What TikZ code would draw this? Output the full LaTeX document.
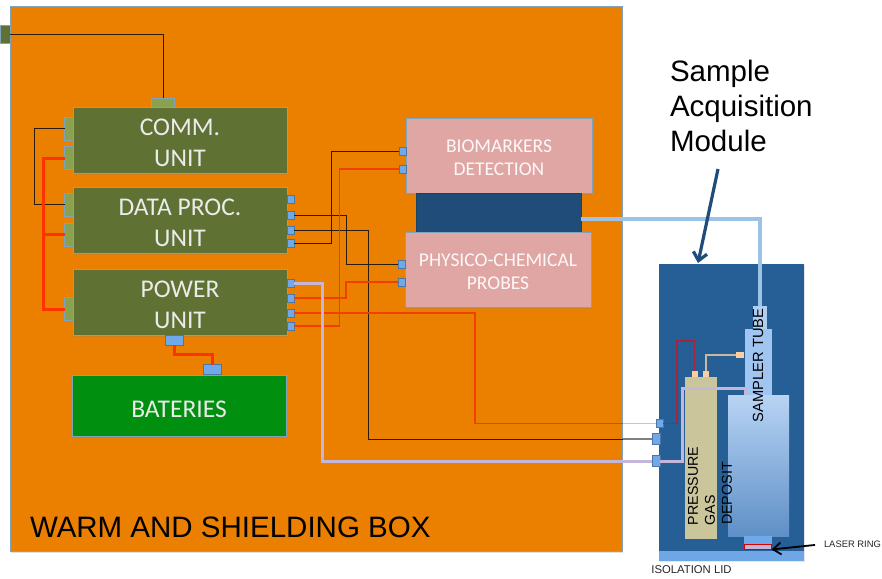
\documentclass[tikz,border=0pt]{standalone}
\usepackage{xcolor}
\usepackage{fontspec}
\setmainfont{Liberation Sans}
\newfontfamily\unitFont{Carlito}
\usepackage{tikz}
\usetikzlibrary{calc}
\usetikzlibrary{arrows.meta, shadows}
\newcommand{\padU}{\rule{0pt}{22pt}}
\newcommand{\padP}{\rule{0pt}{17.5pt}}
\definecolor{colorShell}{HTML}{EB7F00}
\definecolor{colorEdge}{HTML}{7FA3BC}
\definecolor{colorUnit}{HTML}{5F7234}
\definecolor{colorSock}{HTML}{8AA14F}
\definecolor{colorBat}{HTML}{008F0F}
\definecolor{colorPink}{HTML}{E0A6A4}
\definecolor{colorCore}{HTML}{1F4C78}
\definecolor{colorModule}{HTML}{255F96}
\definecolor{colorLid}{HTML}{6FA7E6}
\definecolor{colorPort}{HTML}{6FA9EA}
\definecolor{colorTube}{HTML}{A0C5F0}
\definecolor{colorGas}{HTML}{CAC59B}
\definecolor{colorPeach}{HTML}{F7CFA3}
\definecolor{colorWireK}{HTML}{2A1A08}
\definecolor{colorWireO}{HTML}{F04000}
\definecolor{colorWireR}{HTML}{FF3300}
\definecolor{colorWireL}{HTML}{C4B6DA}
\definecolor{colorWireS}{HTML}{9CC2E6}
\definecolor{colorWireD}{HTML}{A5263C}
\definecolor{colorWireT}{HTML}{C9B9A0}
\tikzset{
    plain/.style = {draw=none, inner sep=0pt, outer sep=0pt},
    boxed/.style = {plain, draw=colorEdge, line width=1pt, drop shadow={shadow xshift=1pt, shadow yshift=-1.5pt, opacity=0.25}},
    unitBox/.style = {boxed, fill=colorUnit, minimum width=214pt, minimum height=66pt, text=white!92!black, align=center, font=\unitFont\fontsize{25.5}{31}\selectfont},
    pinkBox/.style = {boxed, fill=colorPink, minimum width=186pt, minimum height=75pt, text=white!92!colorPink, align=center, font=\unitFont\fontsize{19.5}{22.5}\selectfont},
    sock/.style = {plain, draw=colorEdge, line width=0.8pt, fill=colorSock, minimum width=9pt, minimum height=23pt},
    sockWide/.style = {sock, minimum width=23pt, minimum height=9pt},
    port/.style = {plain, draw=colorPort!70!black, line width=0.4pt, fill=colorPort, minimum width=7pt, minimum height=8pt},
    portWide/.style = {port, minimum width=18pt, minimum height=10pt},
    portBig/.style = {port, minimum width=8pt, minimum height=11pt},
    peach/.style = {plain, fill=colorPeach, minimum width=6pt, minimum height=6pt},
    wireK/.style = {draw=colorWireK, line width=1pt},
    wireO/.style = {draw=colorWireO, line width=1.1pt},
    wireP/.style = {draw=colorWireR, line width=3pt},
    wireL/.style = {draw=colorWireL, line width=3pt},
    wireS/.style = {draw=colorWireS, line width=3.2pt},
    label/.style = {plain, text=black}
}
\begin{document}
\begin{tikzpicture}[x=1pt, y=-1pt]
    \useasboundingbox (0,0) rectangle (882,578);
    \clip (0,0) rectangle (882,578);

    % warm box
    \node[boxed, fill=colorShell, minimum width=612pt, minimum height=544pt] (shell) at (316,279) {};
    \node[plain, draw=colorEdge, line width=0.8pt, fill=colorUnit, minimum width=10pt, minimum height=18pt] (linkPort) at (5,34.5) {};

    \node[unitBox] (comm) at (180,140) {\padU COMM.\\UNIT};
    \node[unitBox] (data) at (180,220) {\padU DATA PROC.\\UNIT};
    \node[unitBox] (power) at (180,302) {\padU POWER\\UNIT};
    \node[boxed, fill=colorBat, minimum width=214pt, minimum height=61pt, text=white!92!black, font=\unitFont\fontsize{25.5}{31}\selectfont] (bat) at (179,405.5) {\rule{0pt}{24.5pt}BATERIES};

    \node[pinkBox] (bio) at (499,155.5) {\padP BIOMARKERS\\DETECTION};
    \node[boxed, draw=colorCore!85!black, fill=colorCore, minimum width=165pt, minimum height=39pt] (core) at (498.5,212.5) {};
    \node[pinkBox] (probe) at (498,269.5) {\padP PHYSICO-CHEMICAL\\PROBES};

    \node[sockWide] (commTop) at (163,102.5) {};
    \foreach \name/\y in {commA/128.5, commB/158, dataA/204.5, dataB/234.5, powerA/309}{
        \node[sock] (\name) at (69,\y) {};
    }

    \foreach \name/\y in {dataP/199, dataQ/215, dataR/230, dataS/243, powerP/283, powerQ/298, powerR/313, powerS/326}{
        \node[port] (\name) at (290.5,\y) {};
    }
    \foreach \name/\y in {bioP/151, bioQ/169}{
        \node[port] (\name) at (402.5,\y) {};
    }
    \foreach \name/\y in {probeP/264, probeQ/282}{
        \node[port] (\name) at (401.5,\y) {};
    }
    \node[portWide] (powerB) at (174,340) {};
    \node[portWide] (batTop) at (212,369.5) {};

    % sample module
    \node[plain, fill=colorModule, drop shadow={shadow xshift=1pt, shadow yshift=-1pt, opacity=0.2}, minimum width=145pt, minimum height=287pt] (module) at (731.5,407.5) {};
    \node[plain, fill=colorLid, minimum width=145pt, minimum height=10pt, drop shadow={shadow xshift=1pt, shadow yshift=-1pt, opacity=0.2}] (lid) at (731.5,556) {};
    \node[plain, fill=colorGas, minimum width=32pt, minimum height=162pt] (gas) at (701,458) {};
    \node[plain, fill=colorTube!85!white, minimum width=14pt, minimum height=23pt] (tubeCap) at (760,317.5) {};
    \node[plain, fill=colorTube, minimum width=27pt, minimum height=66pt] (tube) at (758.5,362) {};
    \node[plain, top color=colorTube!75!white, bottom color=colorPort!85!black, minimum width=61pt, minimum height=141pt] (deposit) at (758.5,465.5) {};
    \node[plain, fill=colorPort, minimum width=28pt, minimum height=8pt] (stub) at (758,540) {};
    \node[plain, draw=red!85!black, line width=1pt, fill=colorWireL, minimum width=27pt, minimum height=5pt] (laser) at (758,547) {};

    \node[port] (modP) at (659.5,423.5) {};
    \node[portBig] (modQ) at (656,439) {};
    \node[portBig] (modR) at (656,461) {};
    \node[peach] (gasA) at (694.5,374) {};
    \node[peach] (gasB) at (706,374) {};
    \node[peach, minimum width=8pt] (tubeP) at (740,355) {};

    \foreach \name/\x in {busKL/34.5, busRL/43, busQ/346, busR/368, busS/331.5, busL/322, busOQ/346, busOR/475, busOS/339.5, busD/677, busG/682}{
        \coordinate (\name) at (\x,0);
    }
    \foreach \name/\y in {rowBat/354, rowSample/219, rowD/341, rowT/355, rowG/388}{
        \coordinate (\name) at (0,\y);
    }
    \coordinate (edgeA) at (622.5,423.5);
    \coordinate (edgeB) at (622.5,439);

    % wires
    \draw[wireK] (linkPort.east) -- (commTop.north |- linkPort.east) -- (commTop.north);
    \draw[wireK] (commA.west) -- (commA.west -| busKL) -- (dataA.west -| busKL) -- (dataA.west);
    \draw[wireP] (commB.west) -- (commB.west -| busRL) -- (powerA.west -| busRL) -- (powerA.west);
    \draw[wireP] (dataB.west) -- (dataB.west -| busRL);
    \draw[wireP] (powerB.south) -- (powerB.south |- rowBat) -- (batTop.north |- rowBat) -- (batTop.north);

    \draw[wireK] (dataQ.east) -- (dataQ.east -| busQ) -- (probeP.west -| busQ) -- (probeP.west);
    \draw[wireK] (dataR.east) -- (dataR.east -| busR) -- (edgeB -| busR) -- (edgeB);
    \draw[draw=gray, line width=1.2pt] (edgeB) -- (modQ.west);
    \draw[wireK] (dataS.east) -- (dataS.east -| busS) -- (bioP.west -| busS) -- (bioP.west);

    \draw[wireO] (powerQ.east) -- (powerQ.east -| busOQ) -- (probeQ.west -| busOQ) -- (probeQ.west);
    \draw[wireO] (powerS.east) -- (powerS.east -| busOS) -- (bioQ.west -| busOS) -- (bioQ.west);
    \draw[wireO] (powerR.east) -- (powerR.east -| busOR) -- (edgeA -| busOR) -- (edgeA);
    \draw[draw=colorWireO!40!white, line width=1.5pt] (edgeA) -- (modP.west);

    \draw[wireL] (powerP.east) -- (powerP.east -| busL) -- (modR.west -| busL) -- (modR.west);
    \draw[wireL] (modR.east) -- (modR.east -| busG) -- (rowG -| busG) -- (tube.south west |- rowG) -- (tube.south west);
    \draw[wireS] (core.east |- rowSample) -- (tubeCap.north |- rowSample) -- (tubeCap.north);
    \draw[draw=colorWireD, line width=1.6pt] (modP.east) -- (modP.east -| busD) -- (rowD -| busD) -- (gasA.north |- rowD) -- (gasA.north);
    \draw[draw=colorWireT, line width=1.8pt] (gasB.north) -- (gasB.north |- rowT) -- (tubeP.west |- rowT) -- (tubeP.west);

    % labels
    \node[label, anchor=west, font=\fontsize{29.5}{35}\selectfont] (boxText) at (30,527) {WARM AND SHIELDING BOX};
    \node[label, anchor=north west, align=left, font=\fontsize{29.5}{35}\selectfont] (modText) at (670,60) {Sample\\Acquisition\\Module};
    \node[label, rotate=90, font=\fontsize{14.7}{17}\selectfont] (tubeText) at (758,365.5) {SAMPLER TUBE};
    \node[label, rotate=90, align=left, font=\fontsize{14.2}{17}\selectfont] (gasText) at (701.5,486) {PRESSURE\\GAS};
    \node[label, rotate=90, font=\fontsize{14.3}{17}\selectfont] (depositText) at (727,493.5) {DEPOSIT};
    \node[label, anchor=west, text=black!85, font=\fontsize{9.4}{12}\selectfont] (laserText) at (824,544) {LASER RING};
    \node[label, text=black!85, font=\fontsize{11.3}{13}\selectfont] (lidText) at (691.5,570) {ISOLATION LID};

    \coordinate (modTail) at (718,169);
    \coordinate (modTip) at (698,263);
    \draw[draw=colorCore, line width=3.2pt, -{Straight Barb[length=8pt, width=14pt]}] (modTail) -- (modTip);
    \draw[draw=black, line width=1.8pt, shorten <=9pt, -{Straight Barb[length=8pt, width=12pt]}] (laserText.west) -- (laser.south east);
\end{tikzpicture}
\end{document}
